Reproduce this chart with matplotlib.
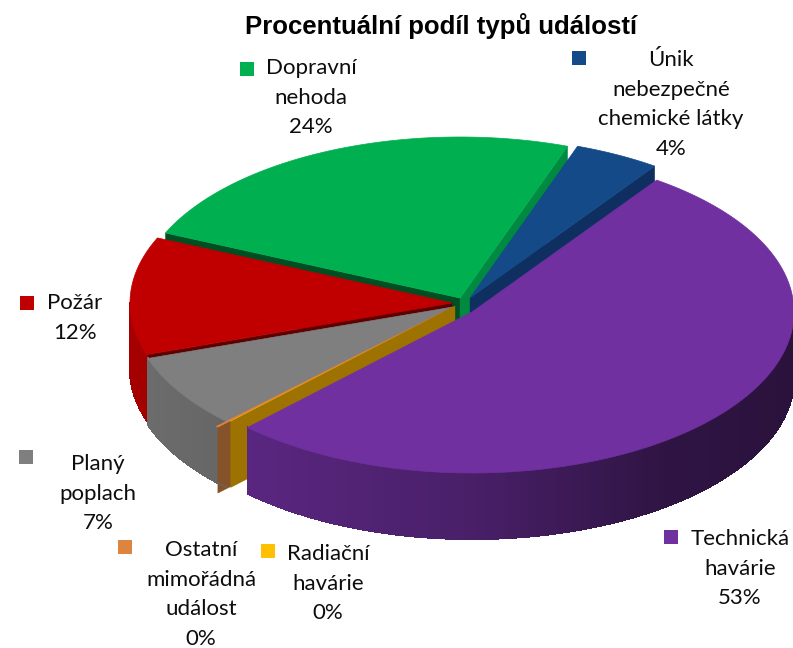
import numpy as np
import matplotlib
matplotlib.use("Agg")
import matplotlib.pyplot as plt
from matplotlib.collections import LineCollection, PolyCollection
from matplotlib.colors import to_rgb
from matplotlib.patches import Polygon, Rectangle

TITLE = "Procentuální podíl typů událostí"

# clockwise from the start angle
names = ["Technická\nhavárie", "Radiační\nhavárie", "Ostatní\nmimořádná\nudálost", "Planý\npoplach",
         "Požár", "Dopravní\nnehoda", "Únik\nnebezpečné\nchemické látky"]
values = [52.55, 0.05, 0.1, 7.4, 11.8, 23.8, 4.3]

top_colors = ["#7030A0", "#FFC000", "#DD843F", "#7F7F7F", "#C00000", "#00B050", "#134A87"]
# None = face not visible from this view
start_face = [None, "#9E7200", "#85532A", "#555555", "#5E0000", "#004F23", None]
end_face = [None, None, None, None, None, "#008A41", "#0E2F60"]

# layout in pixels
START_ANGLE = 55.0
RADIUS = 322
SQUASH = 0.5
DEPTH = 66
CENTER = (461, 305)
explode = [(11, 7), (-6, 1), (-18, 7), (-8, 2), (-9, -2), (-1, -7), (9, -7)]
draw_order = [5, 6, 4, 3, 2, 1, 0]

label_x = [740, 328, 201, 98, 75, 311, 671]
label_y = [539, 554, 550, 464, 303, 68, 60]
key_xy = [(664, 530), (261, 544), (118, 540), (19, 450), (20, 296), (240, 62), (572, 51)]
LINE_STEP = 29.6

plt.rcParams["font.family"] = ["Lato", "DejaVu Sans"]


def ellipse_point(tip, angle):
    rad = np.radians(angle)
    return tip[0] + RADIUS * np.cos(rad), tip[1] - RADIUS * SQUASH * np.sin(rad)


def wall_shade(color, angle):
    # the light comes from the left, the right side of the wall goes dark
    x = np.cos(np.radians(angle))
    mult = np.interp(x, [-1, -0.7, 0, 0.6, 1], [0.86, 0.8, 0.65, 0.42, 0.38])
    return tuple(c * mult for c in to_rgb(color))


def draw_slice(ax, idx, a_start, a_end):
    tip = (CENTER[0] + explode[idx][0], CENTER[1] + explode[idx][1])
    color = top_colors[idx]
    thin = abs(a_start - a_end) < 1

    # radial faces first, the top covers most of them
    for angle, face in [(a_start, start_face[idx]), (a_end, end_face[idx])]:
        if face is None:
            continue
        ox, oy = ellipse_point(tip, angle)
        pts = [tip, (ox, oy), (ox, oy + DEPTH), (tip[0], tip[1] + DEPTH)]
        ax.add_patch(Polygon(pts, closed=True, facecolor=face, edgecolor=face, lw=0.3))

    # outer wall, split in strips for the gradient (the 0% slices have none to speak of)
    angles = np.linspace(a_start, a_end, max(int(abs(a_start - a_end) * 2), 2) + 1)
    strips, shades, bottom = [], [], []
    for a0, a1 in zip(angles[:-1], angles[1:]):
        if thin or np.sin(np.radians((a0 + a1) / 2)) > 0:
            continue
        p0 = ellipse_point(tip, a0)
        p1 = ellipse_point(tip, a1)
        strips.append([p0, p1, (p1[0], p1[1] + DEPTH), (p0[0], p0[1] + DEPTH)])
        bottom.append([(p0[0], p0[1] + DEPTH), (p1[0], p1[1] + DEPTH)])
        shades.append(wall_shade(color, (a0 + a1) / 2))
    if strips:
        ax.add_collection(PolyCollection(strips, facecolors=shades, edgecolors=shades, linewidths=0.8,
                                         antialiaseds=False))
        # smooth the lower rim, the strips are not antialiased
        ax.add_collection(LineCollection(bottom, colors=shades, linewidths=1.0))

    # top surface, the thinnest slice gets no outline or it shows up as a bright line
    arc = [ellipse_point(tip, a) for a in np.linspace(a_start, a_end, 200)]
    top_lw = 0 if abs(a_start - a_end) < 0.3 else 0.5
    ax.add_patch(Polygon([tip] + arc, closed=True, facecolor=color, edgecolor=color, lw=top_lw))


fig = plt.figure(figsize=(7.93, 6.48), dpi=100)
ax = fig.add_axes([0, 0, 1, 1])
ax.set_xlim(0, 793)
ax.set_ylim(648, 0)
ax.axis("off")

sweeps = np.array(values) / sum(values) * 360
ends = START_ANGLE - np.cumsum(sweeps)
starts = ends + sweeps
for i in draw_order:
    draw_slice(ax, i, starts[i], ends[i])

ax.text(441, 26, TITLE, family="Liberation Sans", fontweight="bold", fontsize=18.5,
        ha="center", va="center", color="black")

for i, name in enumerate(names):
    lines = name.split("\n") + [f"{round(values[i])}%"]
    for j, line in enumerate(lines):
        ax.text(label_x[i], label_y[i] + j * LINE_STEP, line, fontsize=16, ha="center", va="center",
                color="#0D0D0D")
    ax.add_patch(Rectangle(key_xy[i], 14, 14, facecolor=top_colors[i], edgecolor="none"))

fig.savefig("out.png", dpi=100)
